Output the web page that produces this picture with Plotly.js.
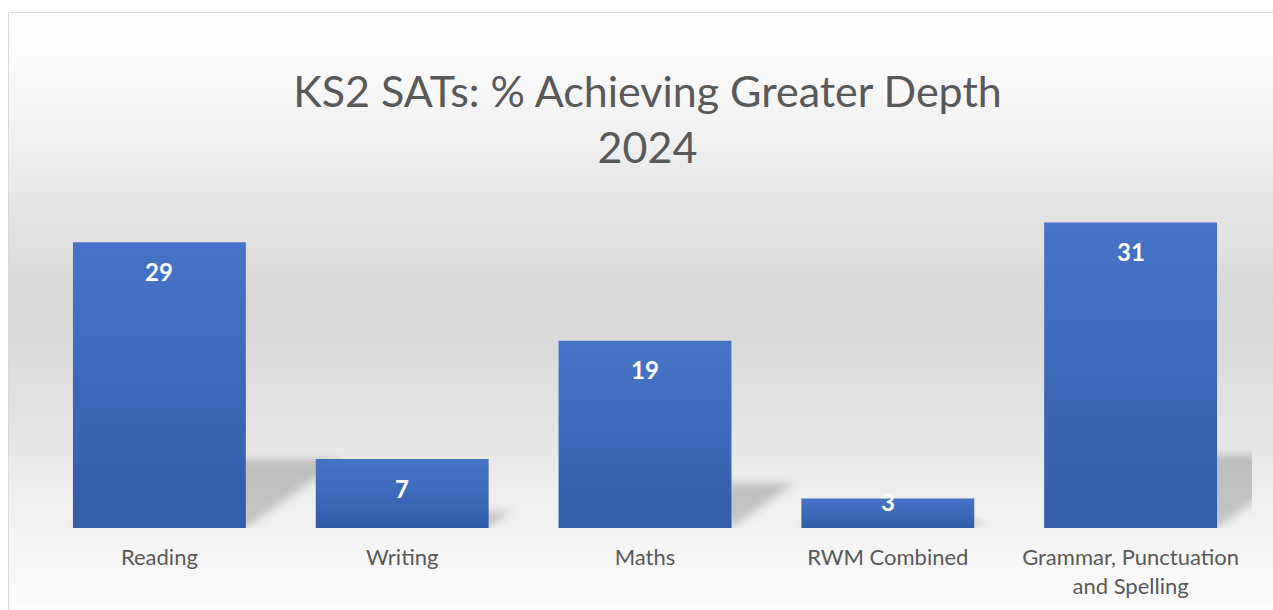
<!DOCTYPE html>
<html>
<head>
<meta charset="utf-8">
<script src="https://cdn.plot.ly/plotly-3.0.1.min.js"></script>
<style>
  html, body { margin: 0; padding: 0; width: 1273px; height: 610px; overflow: hidden; background: #ffffff; }
  #frame {
    position: absolute; left: 8px; top: 12px; width: 1300px; height: 600px;
    border: 1.5px solid #d9d9d9;
    background: linear-gradient(to bottom,
      #ffffff 0%, #f6f6f6 14.5%, #e8e8e8 29.5%, #d7d7d7 48%, #e0e0e0 64.5%, #efefef 81%, #fbfbfb 98%, #ffffff 100%);
  }
  #chart { position: absolute; left: 0; top: 0; width: 1273px; height: 610px; }
</style>
</head>
<body>
<div id="frame"></div>
<div id="chart"></div>
<script>
// ---- data ----
const categories = ["Reading", "Writing", "Maths", "RWM Combined", "Grammar, Punctuation<br>and Spelling"];
const values = [29, 7, 19, 3, 31];
const chartTitle = "KS2 SATs: % Achieving Greater Depth<br>2024";

// ---- layout constants ----
const W = 1273, H = 610;
const margin = { l: 38, r: 21, t: 183, b: 82 };
const yMax = 35;
const bargap = 0.288;
const FONT = "Lato, 'Open Sans', sans-serif";

const xIdx = categories.map((c, i) => i);
const plotW = W - margin.l - margin.r;
const plotH = H - margin.t - margin.b;
const pxPerX = plotW / categories.length;
const pxPerY = plotH / yMax;
const halfW = (1 - bargap) / 2;

// perspective shadows, derived from the data values
const shapes = values.map((v, i) => {
  const h = 0.24 * v;
  const skew = (1.4 * h * pxPerY) / pxPerX;
  const x0 = i - halfW, x1 = i + halfW;
  return {
    type: "path", xref: "x", yref: "y", layer: "below",
    path: `M ${x0},0 L ${x1},0 L ${x1 + skew},${h} L ${x0 + skew},${h} Z`,
    fillcolor: "rgba(0,0,0,0.19)", line: { width: 0 }
  };
});

// value labels (inside end)
const annotations = values.map((v, i) => {
  const barPx = v * pxPerY;
  const shift = Math.min(29, Math.max(3, barPx - 27));
  return {
    x: i, y: v, xref: "x", yref: "y", text: String(v), showarrow: false,
    yanchor: "middle", xanchor: "center", yshift: -shift,
    font: { family: FONT, size: 24, color: "#ffffff", weight: "bold" }
  };
});

const trace = {
  type: "bar", x: xIdx, y: values,
  marker: { color: "#3c68b8", line: { width: 0 } },
  hoverinfo: "skip"
};

const layout = {
  width: W, height: H, margin: margin,
  paper_bgcolor: "rgba(0,0,0,0)", plot_bgcolor: "rgba(0,0,0,0)",
  bargap: bargap, showlegend: false,
  title: {
    text: chartTitle,
    font: { family: FONT, size: 43, color: "#595959" },
    xref: "container", x: 647.5 / W, xanchor: "center",
    yref: "container", y: 1 - 107 / H, yanchor: "middle"
  },
  xaxis: {
    range: [-0.5, categories.length - 0.5], tickvals: xIdx, ticktext: categories,
    showgrid: false, zeroline: false, showline: false, ticks: "",
    ticklabelstandoff: 14,
    tickfont: { family: FONT, size: 22, color: "#595959" }, fixedrange: true
  },
  yaxis: {
    range: [0, yMax], visible: false, showgrid: false, zeroline: false, fixedrange: true
  },
  shapes: shapes,
  annotations: annotations
};

Plotly.newPlot("chart", [trace], layout, { displayModeBar: false, staticPlot: true }).then(() => {
  const svg = document.querySelector("#chart svg.main-svg");
  const NS = "http://www.w3.org/2000/svg";
  let defs = svg.querySelector("defs");
  if (!defs) { defs = document.createElementNS(NS, "defs"); svg.insertBefore(defs, svg.firstChild); }
  const grad = document.createElementNS(NS, "linearGradient");
  grad.setAttribute("id", "barGrad");
  grad.setAttribute("x1", "0"); grad.setAttribute("y1", "0");
  grad.setAttribute("x2", "0"); grad.setAttribute("y2", "1");
  [["0", "#4673c6"], ["0.45", "#3e6abb"], ["1", "#325ca5"]].forEach(([o, c]) => {
    const s = document.createElementNS(NS, "stop");
    s.setAttribute("offset", o); s.setAttribute("stop-color", c);
    grad.appendChild(s);
  });
  defs.appendChild(grad);
  const filt = document.createElementNS(NS, "filter");
  filt.setAttribute("id", "shadowBlur");
  filt.setAttribute("x", "-50%"); filt.setAttribute("y", "-50%");
  filt.setAttribute("width", "200%"); filt.setAttribute("height", "200%");
  const blur = document.createElementNS(NS, "feGaussianBlur");
  blur.setAttribute("stdDeviation", "4");
  filt.appendChild(blur);
  defs.appendChild(filt);
  svg.querySelectorAll(".trace.bars .point path").forEach(p => { p.style.fill = "url(#barGrad)"; });
  svg.querySelectorAll(".shapelayer path").forEach(p => {
    p.setAttribute("filter", "url(#shadowBlur)");
    p.style.filter = "url(#shadowBlur)";
  });
});
</script>
</body>
</html>
